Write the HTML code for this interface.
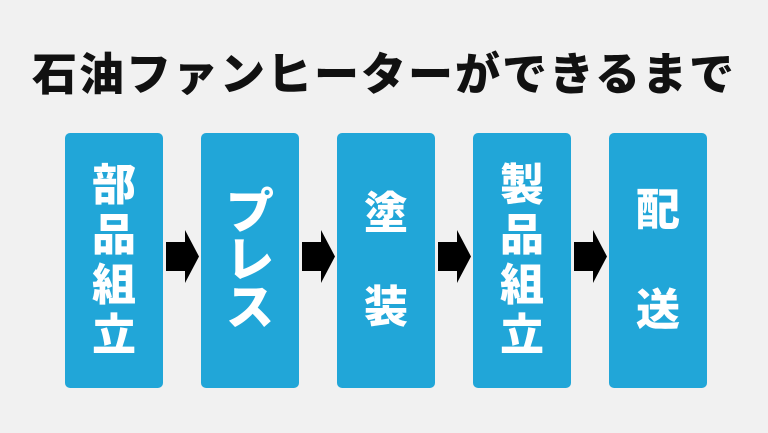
<!DOCTYPE html>
<html><head><meta charset="utf-8"><style>
body{margin:0;width:768px;height:433px;background:#f1f1f1;overflow:hidden;position:relative;font-family:"Liberation Sans","Noto Sans CJK JP",sans-serif;}
.t{position:absolute;left:0;width:768px;top:47px;text-align:center;font-size:45px;font-weight:900;color:#111;line-height:56px;letter-spacing:2px;white-space:nowrap;}
.b{position:absolute;top:133px;width:98px;height:255px;background:#21a6d8;border-radius:5px;color:#fff;font-weight:900;display:flex;flex-direction:column;align-items:center;justify-content:center;}
.b span{display:block;line-height:1;}
.a{position:absolute;top:230px;width:33px;height:53px;}
</style></head><body>
<div class="t">石油ファンヒーターができるまで</div>
<div class="b" style="left:65px;font-size:44px;"><span style="margin:3px 0">部</span><span style="margin:3px 0">品</span><span style="margin:3px 0">組</span><span style="margin:3px 0">立</span></div>
<div class="b" style="left:201px;font-size:48px;"><span>プ</span><span>レ</span><span>ス</span></div>
<div class="b" style="left:337px;font-size:44px;"><span style="margin-bottom:50px">塗</span><span>装</span></div>
<div class="b" style="left:473px;font-size:44px;"><span style="margin:3px 0">製</span><span style="margin:3px 0">品</span><span style="margin:3px 0">組</span><span style="margin:3px 0">立</span></div>
<div class="b" style="left:609px;font-size:44px;"><span style="margin-bottom:56px">配</span><span>送</span></div>
<svg class="a" style="left:166px" viewBox="0 0 33 53"><polygon points="0,12 19,12 19,0 33,26.5 19,53 19,41 0,41" fill="#000"/></svg>
<svg class="a" style="left:302px" viewBox="0 0 33 53"><polygon points="0,12 19,12 19,0 33,26.5 19,53 19,41 0,41" fill="#000"/></svg>
<svg class="a" style="left:438px" viewBox="0 0 33 53"><polygon points="0,12 19,12 19,0 33,26.5 19,53 19,41 0,41" fill="#000"/></svg>
<svg class="a" style="left:574px" viewBox="0 0 33 53"><polygon points="0,12 19,12 19,0 33,26.5 19,53 19,41 0,41" fill="#000"/></svg>
</body></html>
